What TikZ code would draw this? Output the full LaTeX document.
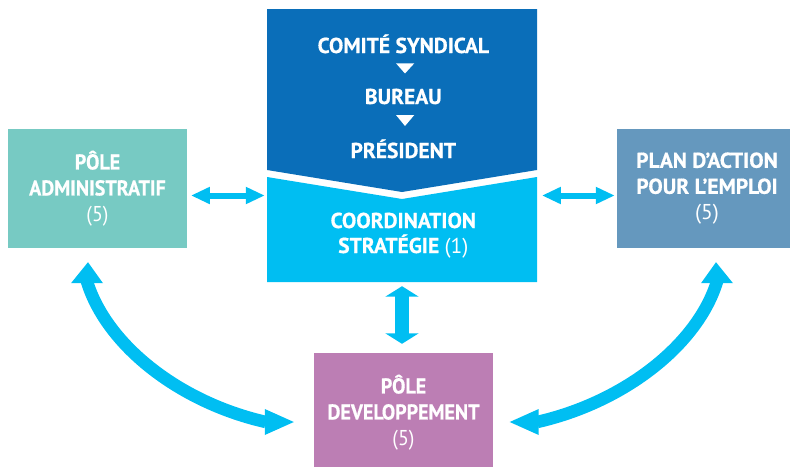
\documentclass[tikz,border=0pt]{standalone}
\usepackage{fontspec}
\setmainfont{PT Sans}[BoldFeatures={FakeBold=0.6}]
\newfontfamily\narrowfont{PT Sans}[FakeStretch=0.93, BoldFeatures={FakeBold=0.6}]
\usetikzlibrary{arrows.meta,calc}
\definecolor{cDark}{HTML}{0A6EB9}
\definecolor{cLight}{HTML}{00BEF2}
\definecolor{cAdm}{HTML}{77CAC3}
\definecolor{cPae}{HTML}{6598BE}
\definecolor{cDev}{HTML}{BC7EB4}
\begin{document}
\begin{tikzpicture}[x=1pt,y=-1pt,
  boxtxt/.style={inner sep=0pt, text=white, align=center,
    font=\fontsize{21.5}{26}\selectfont\bfseries},
  sidebox/.style={boxtxt, minimum width=179pt, minimum height=119pt},
  narrowbox/.style={sidebox, font=\fontsize{21.5}{26}\narrowfont\bfseries},
  ctrtxt/.style={inner sep=0pt, text=white, anchor=base,
    font=\fontsize{21.5}{26}\selectfont\bfseries},
  harrow/.style={cLight, line width=6pt,
    {Triangle[width=16pt,length=19pt]}-{Triangle[width=16pt,length=19pt]}},
  varrow/.style={cLight, line width=14pt,
    {Triangle[width=33pt,length=10.5pt]}-{Triangle[width=33pt,length=10.5pt]}},
  cshaft/.style={cLight, line width=12.5pt},
  chead/.style={fill=cLight},
  marker/.style={fill=white}]
\useasboundingbox (0,0) rectangle (790,466);
\clip (0,0) rectangle (790,466);

% central block
\fill[cDark] (267,9) -- (537,9) -- (537,170) -- (402,192) -- (267,170) -- cycle;
\fill[cLight] (267,177) -- (402,199) -- (537,177) -- (537,282) -- (267,282) -- cycle;
\node[inner sep=0pt, minimum width=270pt, minimum height=273pt] (ctr) at (402,145.5) {};

\node[ctrtxt] (cs) at (403.3,53) {COMITÉ SYNDICAL};
\node[ctrtxt] (bur) at (403.3,104) {BUREAU};
\node[ctrtxt] (pres) at (403.3,158) {PRÉSIDENT};
\node[ctrtxt] (coord) at (403.3,228) {COORDINATION};
\node[ctrtxt] (strat) at (403.3,253) {STRATÉGIE {\mdseries (1)}};

\fill[marker] (396,63.3) -- (414.3,63.3) -- (405,73.5) -- cycle;
\fill[marker] (396,115) -- (414.3,115) -- (405,126) -- cycle;

% side boxes
\node[narrowbox, fill=cAdm] (adm) at (97.5,188.5) {PÔLE\\ADMINISTRATIF\\{\mdseries (5)}};
\node[sidebox, fill=cPae, minimum width=180pt] (pae) at (707,188.5) {PLAN D{\char"0027}ACTION\\POUR L{\char"0027}EMPLOI\\{\mdseries (5)}};
\node[narrowbox, fill=cDev] (dev) at (403.5,412.5) {PÔLE\\DEVELOPPEMENT\\{\mdseries (5)}};

% straight arrows
\draw[harrow] ($(adm.east)+(3.7,7)$) -- ($(ctr.west |- adm.east)+(-2,7)$);
\draw[harrow] ($(ctr.east |- pae.west)+(4.7,7)$) -- ($(pae.west)+(-2,7)$);
\draw[varrow] ($(ctr.south)+(0,4)$) -- ($(dev.north)+(-1.5,-9)$);

% curved arrows
\coordinate (la) at ($(adm.south)+(-11.5,30)$);
\coordinate (lb) at ($(dev.west)+(-48,9.5)$);
\draw[cshaft] (la) .. controls +(18,65) and +(-88,-20) .. (lb);
\fill[chead] ($(adm.south)+(-9.5,14)$) -- ($(adm.south)+(-26.5,35)$) -- ($(adm.south)+(5.5,35)$) -- cycle;
\fill[chead] ($(dev.west)+(-20,9.5)$) -- ($(dev.west)+(-49,-3.5)$) -- ($(dev.west)+(-49,22.5)$) -- cycle;

\coordinate (ra) at ($(pae.south)+(11,30)$);
\coordinate (rb) at ($(dev.east)+(44,9.5)$);
\draw[cshaft] (ra) .. controls +(-18,65) and +(88,-20) .. (rb);
\fill[chead] ($(pae.south)+(9,14)$) -- ($(pae.south)+(-6,35)$) -- ($(pae.south)+(26,35)$) -- cycle;
\fill[chead] ($(dev.east)+(16.5,9.5)$) -- ($(dev.east)+(45.5,-3.5)$) -- ($(dev.east)+(45.5,22.5)$) -- cycle;
\end{tikzpicture}
\end{document}
